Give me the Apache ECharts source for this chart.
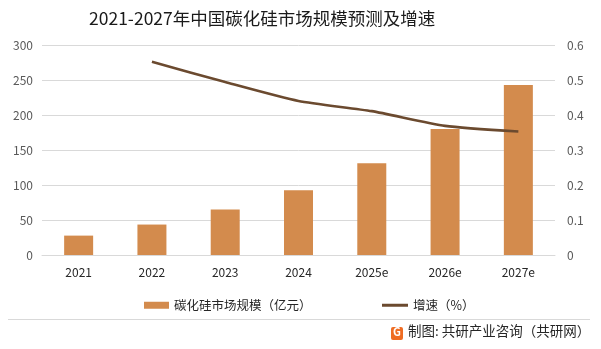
<!DOCTYPE html>
<html>
<head>
<meta charset="utf-8">
<script src="https://cdn.jsdelivr.net/npm/echarts@6/dist/echarts.min.js"></script>
<style>
html,body{margin:0;padding:0;background:#fff;}
#main{width:601px;height:349px;}
</style>
</head>
<body>
<div id="main"></div>
<script>
// 年份类别
const years = ['2021', '2022', '2023', '2024', '2025e', '2026e', '2027e'];
// 碳化硅市场规模（亿元）
const marketSize = [27.7, 43.5, 65, 92.4, 131, 180, 243];
// 增速
const growth = [null, 0.552, 0.494, 0.44, 0.411, 0.369, 0.353];
// 坐标轴刻度
const leftTicks = { min: 0, max: 300, interval: 50 };
const rightTicks = { min: 0, max: 0.6, interval: 0.1 };

const FONT = '"Noto Sans CJK SC", "Noto Sans", sans-serif';
const barName = '碳化硅市场规模（亿元）';
const lineName = '增速（%）';

const chart = echarts.init(document.getElementById('main'), null, { renderer: 'canvas' });
chart.setOption({
  backgroundColor: '#ffffff',
  textStyle: { fontFamily: FONT },
  title: {
    text: '2021-2027年中国碳化硅市场规模预测及增速',
    left: 84,
    top: 5,
    textStyle: { fontFamily: FONT, fontSize: 17.5, fontWeight: 'normal', color: '#1a1a1a' }
  },
  legend: [
    {
      data: [{ name: barName, icon: 'rect' }],
      left: 139, top: 294,
      itemWidth: 25, itemHeight: 7, itemGap: 4,
      textStyle: { fontFamily: FONT, fontSize: 12.5, color: '#262626' }
    },
    {
      data: [{ name: lineName, icon: 'rect' }],
      left: 377, top: 294,
      itemWidth: 26, itemHeight: 3, itemGap: 4,
      textStyle: { fontFamily: FONT, fontSize: 12.5, color: '#262626' }
    }
  ],
  grid: { left: 42, right: 46, top: 45, bottom: 94, containLabel: false },
  xAxis: {
    type: 'category',
    data: years,
    axisLine: { lineStyle: { color: '#d9d9d9' } },
    axisTick: { show: false },
    axisLabel: { color: '#262626', fontSize: 12, margin: 11, fontFamily: FONT }
  },
  yAxis: [
    {
      type: 'value',
      min: leftTicks.min, max: leftTicks.max, interval: leftTicks.interval,
      axisLine: { show: false },
      axisTick: { show: false },
      axisLabel: { color: '#595959', fontSize: 12, margin: 9, fontFamily: FONT },
      splitLine: { lineStyle: { color: '#d9d9d9', width: 1 } }
    },
    {
      type: 'value',
      min: rightTicks.min, max: rightTicks.max, interval: rightTicks.interval,
      axisLine: { show: false },
      axisTick: { show: false },
      splitLine: { show: false },
      axisLabel: {
        color: '#595959', fontSize: 12, margin: 12, fontFamily: FONT,
        formatter: v => String(Math.round(v * 10) / 10)
      }
    }
  ],
  series: [
    {
      name: barName,
      type: 'bar',
      data: marketSize,
      barWidth: 29,
      itemStyle: { color: '#d38b4d' },
      z: 2
    },
    {
      name: lineName,
      type: 'line',
      yAxisIndex: 1,
      data: growth,
      smooth: 0.2,
      symbol: 'none',
      lineStyle: { color: '#6b4a2f', width: 2.6 },
      itemStyle: { color: '#6b4a2f' },
      z: 3
    }
  ],
  graphic: [
    {
      type: 'line',
      shape: { x1: 8, y1: 319.5, x2: 590, y2: 319.5 },
      style: { stroke: '#d9d9d9', lineWidth: 1 }
    },
    {
      type: 'rect',
      shape: { x: 391, y: 327, width: 12, height: 13, r: 2 },
      style: { fill: '#ef6c23' }
    },
    {
      type: 'text',
      left: 393, top: 326,
      style: { text: 'G', fill: '#ffffff', font: 'bold 11px ' + FONT }
    },
    {
      type: 'text',
      left: 408, top: 324,
      style: { text: '制图: 共研产业咨询（共研网）', fill: '#262626', font: '13.5px ' + FONT }
    }
  ]
});
</script>
</body>
</html>
